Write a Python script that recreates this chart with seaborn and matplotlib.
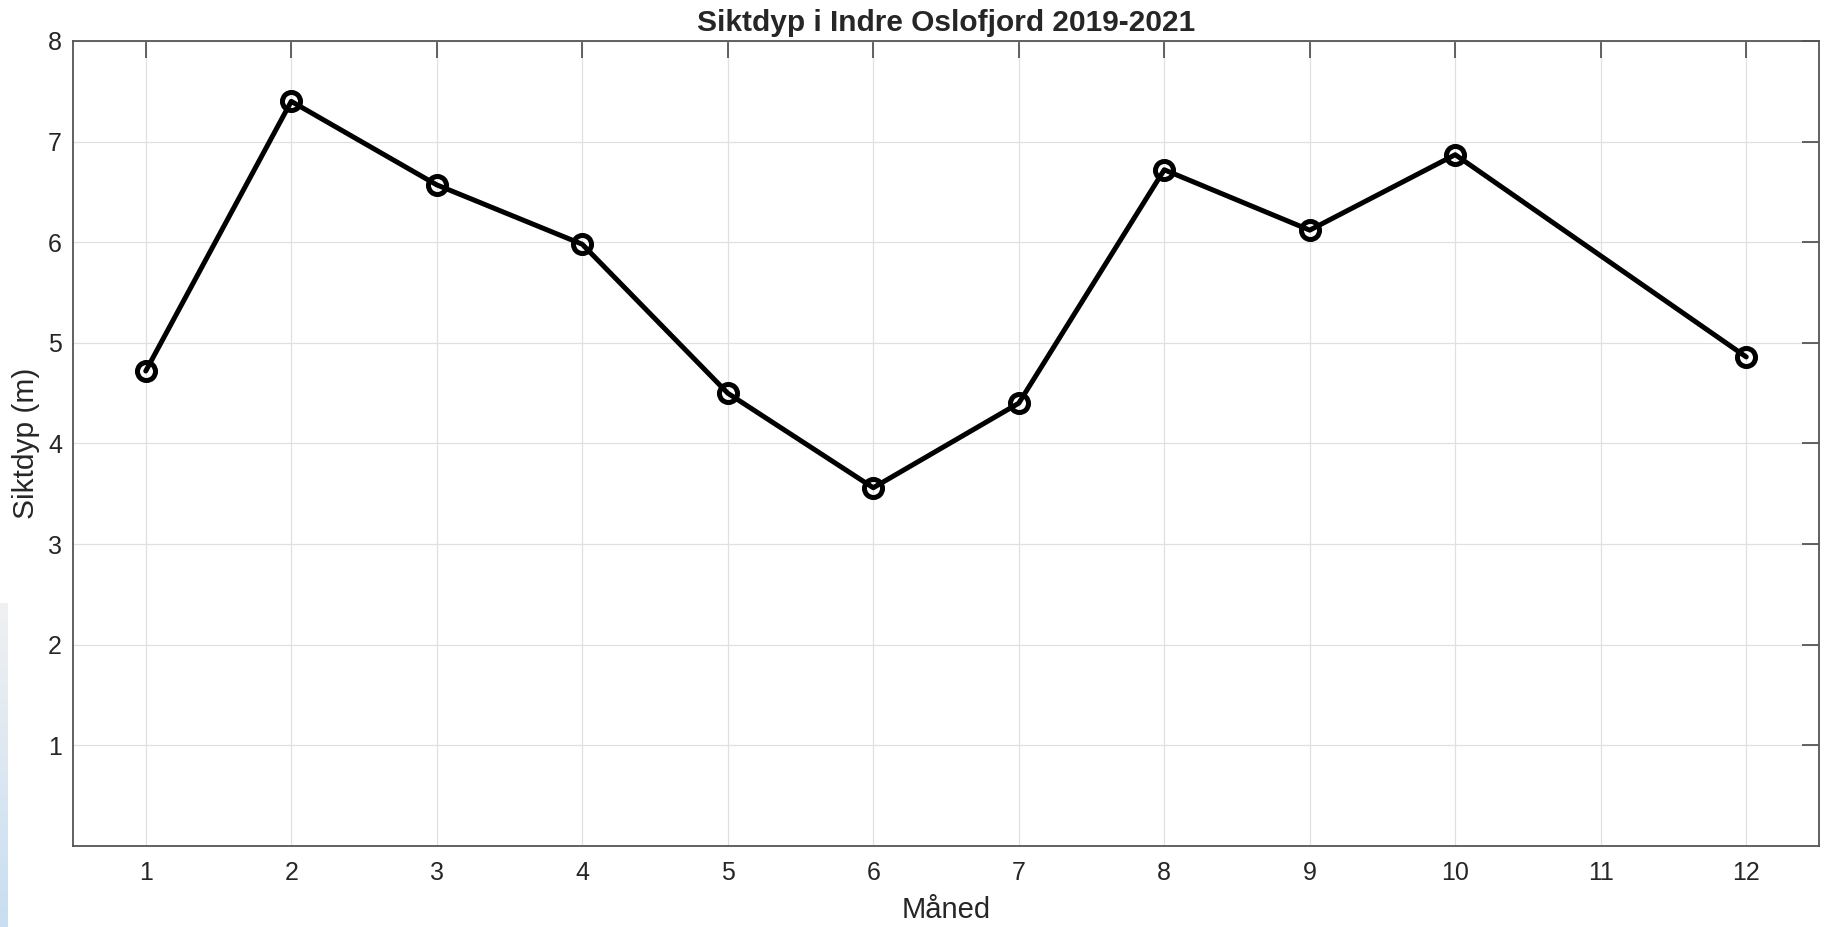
import matplotlib.pyplot as plt
import numpy as np
import pandas as pd
import seaborn as sns

# Monthly Secchi depth, Indre Oslofjord 2019-2021 (no value for month 11)
months = [1, 2, 3, 4, 5, 6, 7, 8, 9, 10, 12]
depth = [4.72, 7.40, 6.57, 5.98, 4.50, 3.56, 4.40, 6.72, 6.12, 6.87, 4.86]
x_ticks = list(range(1, 13))
y_ticks = list(range(1, 9))

df = pd.DataFrame({'Måned': months, 'Siktdyp': depth})

sns.set_style('white')
plt.rcParams['font.family'] = ['Liberation Sans', 'DejaVu Sans']

fig = plt.figure(figsize=(18.25, 9.27), dpi=100)
ax = fig.add_axes([0.04, 0.0874, 0.9567, 0.8684])

# faint blue strip at the left edge of the original screenshot
strip = fig.add_axes([0.0, 0.0, 0.004, 0.35])
grad = np.linspace(0, 1, 100).reshape(-1, 1)
strip.imshow(grad, aspect='auto', cmap=sns.light_palette('#c9def2', as_cmap=True),
             vmin=0, vmax=1)
strip.axis('off')

sns.lineplot(data=df, x='Måned', y='Siktdyp', ax=ax, color='black', linewidth=3.6,
             marker='o', markersize=13, markerfacecolor='none',
             markeredgecolor='black', markeredgewidth=3.6)

ax.set_xlim(0.5, 12.5)
ax.set_ylim(0, 8)
ax.set_xticks(x_ticks)
ax.set_yticks(y_ticks)
ax.grid(True, color='#e0e0e0', linewidth=0.9)
ax.set_axisbelow(True)

for s in ax.spines.values():
    s.set_visible(True)
    s.set_color('#555555')
    s.set_linewidth(1.3)

ax.tick_params(direction='in', length=12.5, width=1.3, color='#555555',
               top=True, right=True, labelsize=18, labelcolor='#262626')
ax.tick_params(axis='x', pad=11)
ax.tick_params(axis='y', pad=8)

ax.set_xlabel('Måned', fontsize=21, color='#262626', labelpad=8)
ax.set_ylabel('Siktdyp (m)', fontsize=21.5, color='#262626', labelpad=6)
ax.set_title('Siktdyp i Indre Oslofjord 2019-2021', fontsize=21.5,
             fontweight='bold', pad=7)

fig.savefig('out.png', dpi=100)
